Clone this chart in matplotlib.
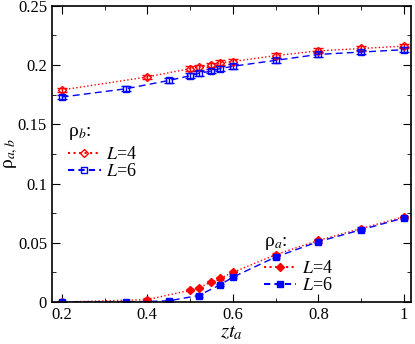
import matplotlib
matplotlib.use("Agg")
import matplotlib.pyplot as plt
from matplotlib.lines import Line2D

plt.rcParams['font.family'] = ['Liberation Serif', 'DejaVu Serif']
plt.rcParams['mathtext.fontset'] = 'stix'

# rho_b (upper curves)
x_b4 = [0.2, 0.4, 0.5, 0.52, 0.55, 0.57, 0.6, 0.7, 0.8, 0.9, 1.0]
rho_b4 = [0.179, 0.190, 0.197, 0.198, 0.200, 0.202, 0.203, 0.208, 0.212, 0.214, 0.216]
err_b4 = [0.002, 0.002, 0.002, 0.002, 0.002, 0.002, 0.002, 0.002, 0.002, 0.002, 0.002]

x_b6 = [0.2, 0.35, 0.45, 0.5, 0.52, 0.55, 0.57, 0.6, 0.7, 0.8, 0.9, 1.0]
rho_b6 = [0.173, 0.180, 0.187, 0.191, 0.193, 0.195, 0.197, 0.199, 0.204, 0.209, 0.211, 0.213]
err_b6 = [0.002, 0.002, 0.002, 0.002, 0.002, 0.002, 0.002, 0.002, 0.002, 0.002, 0.002, 0.002]

# rho_a (lower curves)
x_a4 = [0.2, 0.4, 0.5, 0.52, 0.55, 0.57, 0.6, 0.7, 0.8, 0.9, 1.0]
rho_a4 = [0.0, 0.002, 0.010, 0.012, 0.017, 0.020, 0.025, 0.040, 0.052, 0.062, 0.072]
err_a4 = [0.0005, 0.001, 0.001, 0.001, 0.001, 0.001, 0.001, 0.001, 0.001, 0.001, 0.001]

x_a6 = [0.2, 0.35, 0.45, 0.52, 0.57, 0.6, 0.7, 0.8, 0.9, 1.0]
rho_a6 = [0.0, 0.0, 0.001, 0.0055, 0.0145, 0.021, 0.038, 0.051, 0.061, 0.071]
err_a6 = [0.0005, 0.0005, 0.0005, 0.001, 0.001, 0.001, 0.001, 0.001, 0.001, 0.001]

red = '#ff0000'
blue = '#0000ff'

fig = plt.figure(figsize=(4.15, 3.44), dpi=100)
ax = fig.add_axes([0.125, 0.122, 0.865, 0.861])

ax.errorbar(x_b4, rho_b4, yerr=err_b4, color=red, ls=':', marker='D', ms=4.5,
            mfc='none', mew=1.0, lw=1.0, capsize=3.5, elinewidth=1.0)
ax.errorbar(x_b6, rho_b6, yerr=err_b6, color=blue, ls='--', dashes=(5, 3), marker='s', ms=5,
            mfc='none', mew=1.0, lw=1.0, capsize=3.5, elinewidth=1.0)
ax.errorbar(x_a4, rho_a4, yerr=err_a4, color=red, ls=':', marker='D', ms=4,
            mew=1.0, lw=1.0, capsize=3, elinewidth=1.0)
ax.errorbar(x_a6, rho_a6, yerr=err_a6, color=blue, ls='--', dashes=(5, 3), marker='s', ms=4.5,
            mew=1.0, lw=1.0, capsize=3, elinewidth=1.0)

ax.set_xlim(0.177, 1.016)
ax.set_ylim(0, 0.25)
ax.set_xticks([0.2, 0.4, 0.6, 0.8, 1.0])
ax.set_xticklabels(['0.2', '0.4', '0.6', '0.8', '1'])
ax.set_xticks([0.3, 0.5, 0.7, 0.9], minor=True)
ax.set_yticks([0, 0.05, 0.1, 0.15, 0.2, 0.25])
ax.set_yticklabels(['0', '0.05', '0.1', '0.15', '0.2', '0.25'])
ax.set_yticks([0.025, 0.075, 0.125, 0.175, 0.225], minor=True)
ax.tick_params(which='both', direction='in', top=True, right=True, labelsize=12)
ax.tick_params(which='major', length=6)
ax.tick_params(which='minor', length=3)
for s in ax.spines.values():
    s.set_linewidth(1.2)

ax.set_xlabel('$zt_a$', fontsize=15, labelpad=0)
ax.set_ylabel('ρ$_{a,b}$', fontsize=14)
ax.yaxis.set_label_coords(-0.088, 0.5)

# legends
h4o = Line2D([], [], color=red, ls=':', marker='D', ms=4.5, mfc='none', mew=1.0)
h6o = Line2D([], [], color=blue, ls='--', dashes=(3, 2), marker='s', ms=5, mfc='none', mew=1.0)
h4f = Line2D([], [], color=red, ls=':', marker='D', ms=4, mew=1.0)
h6f = Line2D([], [], color=blue, ls='--', dashes=(3, 2), marker='s', ms=4.5, mew=1.0)

leg1 = ax.legend([h4o, h6o], ['$L$=4', '$L$=6'], loc='upper left', bbox_to_anchor=(0.02, 0.635),
                 frameon=False, fontsize=13, handlelength=1.8, handletextpad=0.3,
                 labelspacing=0.0, borderpad=0, title='ρ$_b$:', title_fontsize=14)
leg1._legend_box.align = 'left'
leg1._legend_box.sep = 3
ax.add_artist(leg1)
leg2 = ax.legend([h4f, h6f], ['$L$=4', '$L$=6'], loc='upper left', bbox_to_anchor=(0.565, 0.265),
                 frameon=False, fontsize=13, handlelength=1.8, handletextpad=0.3,
                 labelspacing=0.0, borderpad=0, title='ρ$_a$:', title_fontsize=14)
leg2._legend_box.align = 'left'
leg2._legend_box.sep = 6

fig.savefig('out.png', dpi=100)
